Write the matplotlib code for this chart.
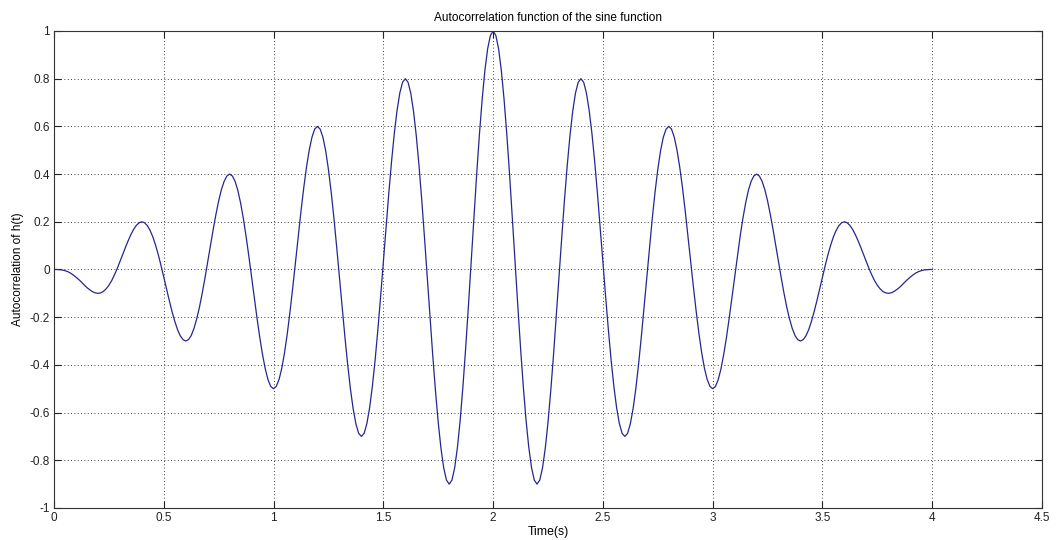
import numpy as np
import matplotlib
matplotlib.use("Agg")
import matplotlib.pyplot as plt

plt.rcParams['font.family'] = ['Liberation Sans', 'DejaVu Sans']

acorr = [
    0.000, 0.000, -0.001, -0.002, -0.005, -0.009, -0.015, -0.023,
    -0.032, -0.042, -0.053, -0.065, -0.076, -0.085, -0.093, -0.098,
    -0.100, -0.098, -0.092, -0.081, -0.066, -0.047, -0.023, 0.003,
    0.032, 0.062, 0.092, 0.120, 0.146, 0.168, 0.185, 0.196,
    0.200, 0.196, 0.184, 0.164, 0.137, 0.102, 0.062, 0.016,
    -0.032, -0.081, -0.130, -0.176, -0.217, -0.252, -0.278, -0.294,
    -0.300, -0.294, -0.277, -0.247, -0.207, -0.158, -0.100, -0.036,
    0.032, 0.101, 0.168, 0.231, 0.288, 0.335, 0.370, 0.392,
    0.400, 0.392, 0.369, 0.331, 0.278, 0.213, 0.138, 0.055,
    -0.032, -0.120, -0.206, -0.287, -0.358, -0.418, -0.463, -0.491,
    -0.500, -0.490, -0.461, -0.414, -0.349, -0.269, -0.176, -0.075,
    0.032, 0.140, 0.245, 0.343, 0.429, 0.501, 0.555, 0.589,
    0.600, 0.588, 0.554, 0.497, 0.419, 0.324, 0.215, 0.094,
    -0.032, -0.159, -0.283, -0.398, -0.500, -0.584, -0.647, -0.687,
    -0.700, -0.687, -0.646, -0.580, -0.490, -0.380, -0.253, -0.114,
    0.032, 0.179, 0.321, 0.454, 0.571, 0.667, 0.740, 0.785,
    0.800, 0.785, 0.739, 0.663, 0.561, 0.435, 0.291, 0.133,
    -0.032, -0.198, -0.360, -0.509, -0.641, -0.750, -0.832, -0.883,
    -0.900, -0.883, -0.831, -0.746, -0.632, -0.491, -0.329, -0.153,
    0.032, 0.218, 0.398, 0.565, 0.712, 0.834, 0.925, 0.981,
    1.000,
    0.981, 0.925, 0.834, 0.712, 0.565, 0.398, 0.218, 0.032,
    -0.153, -0.329, -0.491, -0.632, -0.746, -0.831, -0.883, -0.900,
    -0.883, -0.832, -0.750, -0.641, -0.509, -0.360, -0.198, -0.032,
    0.133, 0.291, 0.435, 0.561, 0.663, 0.739, 0.785, 0.800,
    0.785, 0.740, 0.667, 0.571, 0.454, 0.321, 0.179, 0.032,
    -0.114, -0.253, -0.380, -0.490, -0.580, -0.646, -0.687, -0.700,
    -0.687, -0.647, -0.584, -0.500, -0.398, -0.283, -0.159, -0.032,
    0.094, 0.215, 0.324, 0.419, 0.497, 0.554, 0.588, 0.600,
    0.589, 0.555, 0.501, 0.429, 0.343, 0.245, 0.140, 0.032,
    -0.075, -0.176, -0.269, -0.349, -0.414, -0.461, -0.490, -0.500,
    -0.491, -0.463, -0.418, -0.358, -0.287, -0.206, -0.120, -0.032,
    0.055, 0.138, 0.213, 0.278, 0.331, 0.369, 0.392, 0.400,
    0.392, 0.370, 0.335, 0.288, 0.231, 0.168, 0.101, 0.032,
    -0.036, -0.100, -0.158, -0.207, -0.247, -0.277, -0.294, -0.300,
    -0.294, -0.278, -0.252, -0.217, -0.176, -0.130, -0.081, -0.032,
    0.016, 0.062, 0.102, 0.137, 0.164, 0.184, 0.196, 0.200,
    0.196, 0.185, 0.168, 0.146, 0.120, 0.092, 0.062, 0.032,
    0.003, -0.023, -0.047, -0.066, -0.081, -0.092, -0.098, -0.100,
    -0.098, -0.093, -0.085, -0.076, -0.065, -0.053, -0.042, -0.032,
    -0.023, -0.015, -0.009, -0.005, -0.002, -0.001, 0.000, 0.000,
]
t_start, t_end = 0.0, 4.0
time = np.linspace(t_start, t_end, len(acorr))

xticks = [0, 0.5, 1, 1.5, 2, 2.5, 3, 3.5, 4, 4.5]
xticklabels = ['0', '0.5', '1', '1.5', '2', '2.5', '3', '3.5', '4', '4.5']
yticks = [-1, -0.8, -0.6, -0.4, -0.2, 0, 0.2, 0.4, 0.6, 0.8, 1]
yticklabels = ['-1', '-0.8', '-0.6', '-0.4', '-0.2', '0', '0.2', '0.4', '0.6', '0.8', '1']

fig = plt.figure(figsize=(10.57, 5.40), dpi=100)
ax = fig.add_axes([0.0511, 0.0593, 0.9347, 0.8833])

ax.plot(time, acorr, color='#26268f', linewidth=0.9)

ax.set_xlim(0, 4.5)
ax.set_ylim(-1, 1)
ax.set_xticks(xticks)
ax.set_xticklabels(xticklabels)
ax.set_yticks(yticks)
ax.set_yticklabels(yticklabels)

ax.grid(True, color='black', linestyle=(0, (1, 3)), linewidth=0.6)
ax.tick_params(direction='in', length=5, width=0.8, top=True, right=True,
               labelsize=8.5, pad=3, colors='#222222')
for s in ax.spines.values():
    s.set_linewidth(0.8)
    s.set_color('#333333')

ax.set_title('Autocorrelation function of the sine function', fontsize=8.6, pad=7)
ax.set_xlabel('Time(s)', fontsize=8.8, labelpad=1)
ax.set_ylabel('Autocorrelation of h(t)', fontsize=8.5, labelpad=4)

fig.savefig('out.png', dpi=100, facecolor='white')
